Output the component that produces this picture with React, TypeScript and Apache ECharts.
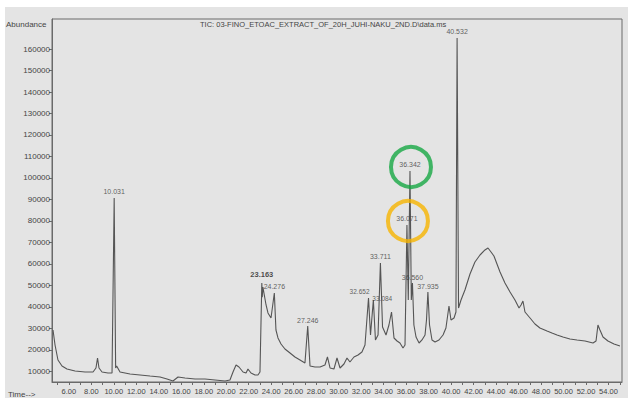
import React, { useEffect, useRef } from "react";
import * as echarts from "echarts";

// Baseline of the total ion chromatogram (retention time in min, abundance)
const baselineTimes = [
  4.59, 4.77, 5.03, 5.39, 5.83, 6.55, 7.44, 8.15, 8.41, 8.55, 8.68, 8.95, 9.48, 9.84,
  10.16, 10.25, 10.55, 11.44, 12.33, 13.22, 14.11, 14.73, 15.26, 15.71, 16.33, 17.22,
  18.11, 19.0, 19.89, 20.33, 20.6, 20.87, 21.13, 21.49, 21.76, 21.93, 22.2, 22.56,
  22.82, 23.0, 23.2, 23.26, 23.54, 23.71, 23.98, 24.42, 24.6, 24.87, 25.22, 25.67, 26.11,
  26.56, 27.0, 27.45, 27.89, 28.34, 28.78, 29.0, 29.23, 29.58, 29.85, 30.12, 30.47,
  30.74, 31.0, 31.36, 31.72, 32.07, 32.34, 32.83, 33.27, 33.5, 33.9, 34.21, 34.47,
  34.7, 34.92, 35.19, 35.45, 35.72, 35.9, 36.19, 36.46, 36.69, 36.88, 37.15, 37.41,
  37.68, 37.81, 38.08, 38.3, 38.57, 38.92, 39.28, 39.54, 39.81, 39.99, 40.26, 40.43,
  40.66, 40.88, 41.23, 41.68, 42.12, 42.57, 43.01, 43.28, 43.55, 43.81, 44.08, 44.35,
  44.79, 45.24, 45.68, 46.04, 46.22, 46.39, 46.57, 47.02, 47.46, 47.9, 48.53, 48.97,
  49.42, 49.95, 50.57, 51.2, 51.91, 52.62, 52.89, 53.06, 53.24, 53.51, 53.95, 54.49,
  55.02,
];
const baselineValues = [
  29210, 22230, 15240, 12450, 11050, 10120, 9660, 9660, 11520, 16170, 11520, 9660, 9190, 9190,
  11520, 12450, 9660, 8720, 8260, 7790, 7330, 6400, 5470, 7330, 6860, 6400,
  6400, 5930, 5470, 5930, 9660, 12920, 11980, 9660, 9190, 11050, 9190, 8260,
  8260, 9660, 44500, 49200, 40850, 37130, 34800, 29210, 25490, 22690, 20360, 18500, 16640,
  15240, 13850, 12450, 11980, 11980, 12920, 16640, 11520, 11050, 16170, 11520, 13380,
  16170, 14310, 16640, 17570, 18970, 22230, 26880, 24560, 26880, 30610, 26880, 31540,
  37590, 25490, 24090, 23160, 20830, 22230, 43180, 43180, 31540, 25950, 23160, 24560,
  26880, 33870, 31540, 24560, 23620, 24560, 26880, 30140, 40390, 33870, 34800, 37590,
  39450, 43180, 47840, 55280, 60870, 64130, 66460, 67390, 65530, 63670, 59940, 56220,
  51090, 46900, 43180, 39450, 40850, 42710, 37590, 34800, 32000, 30140, 28750, 27810,
  26880, 25950, 25020, 24560, 24090, 23160, 24090, 31540, 29210, 25950, 24090, 22690,
  21760,
];

// Integrated peaks: apex retention time and apex abundance
const peakTimes = [
  10.031, 23.163, 24.276, 27.246, 32.652, 33.084, 33.711, 36.071, 36.342, 36.56, 37.935,
  40.532,
];
const peakValues = [
  90670, 51090, 46440, 31070, 44110, 43180, 60410, 78100, 103240, 51090, 46900, 165170,
];

// Hand-drawn rings around two peak labels
const ringTimes = [36.43, 36.16];
const ringValues = [105100, 79960];
const ringColors = ["#16a843", "#f6b400"];

const xTickLabels = [
  6, 8, 10, 12, 14, 16, 18, 20, 22, 24, 26, 28, 30, 32, 34, 36, 38, 40, 42, 44, 46, 48,
  50, 52, 54,
];
const yTickLabels = [
  10000, 20000, 30000, 40000, 50000, 60000, 70000, 80000, 90000, 100000, 110000, 120000,
  130000, 140000, 150000, 160000,
];

const TITLE = "TIC: 03-FINO_ETOAC_EXTRACT_OF_20H_JUHI-NAKU_2ND.D\\data.ms";
const FONT = "'Liberation Sans', Arial, sans-serif";
const INK = "#444444";

// Per-peak label tweaks where neighbouring peaks would collide
const labelTweaks: Record<number, any> = {
  23.163: { fontWeight: "bold", color: "#1e1e1e", fontSize: 7.5, distance: 4 },
  32.652: { align: "right", offset: [1, 0], fontSize: 6.5 },
  33.084: { align: "left", offset: [-1, 5], fontSize: 6.5 },
};

export default function App() {
  const ref = useRef<HTMLDivElement>(null);

  useEffect(() => {
    document.body.style.margin = "0";
    if (!ref.current) return;
    const chart = echarts.init(ref.current, undefined, { renderer: "svg" });

    const trace: [number, number][] = [];
    baselineTimes.forEach((t, i) => trace.push([t, baselineValues[i]]));
    peakTimes.forEach((t, i) => trace.push([t, peakValues[i]]));
    trace.sort((a, b) => a[0] - b[0]);

    const minuteTicks: number[] = [];
    for (let m = 5; m <= 55; m += 1) minuteTicks.push(m);

    chart.setOption({
      animation: false,
      backgroundColor: "#ffffff",
      grid: {
        left: 52,
        right: 6,
        top: 19,
        bottom: 19,
        show: true,
        borderColor: "#6a6a6a",
        borderWidth: 1,
        backgroundColor: "transparent",
      },
      graphic: [
        {
          type: "rect",
          z: -10,
          silent: true,
          shape: { x: 5, y: 7, width: 623, height: 391 },
          style: { fill: "#e4e4e4" },
        },
        {
          type: "text",
          left: 6,
          top: 20,
          style: { text: "Abundance", fill: INK, font: `8px ${FONT}` },
        },
        {
          type: "text",
          left: 200,
          top: 20,
          style: { text: TITLE, fill: INK, font: `7.5px ${FONT}` },
        },
        {
          type: "text",
          left: 8,
          top: 390,
          style: { text: "Time-->", fill: INK, font: `8px ${FONT}` },
        },
      ],
      xAxis: {
        type: "value",
        min: 4.5,
        max: 55.2,
        splitLine: { show: false },
        axisLine: { lineStyle: { color: "#6a6a6a", width: 1 } },
        axisTick: {
          customValues: minuteTicks,
          length: 3,
          lineStyle: { color: "#6a6a6a" },
        },
        axisLabel: {
          customValues: xTickLabels,
          formatter: (v: number) => v.toFixed(2),
          color: INK,
          fontFamily: FONT,
          fontSize: 7.5,
          margin: 5,
        },
      },
      yAxis: {
        type: "value",
        min: 5000,
        max: 174000,
        splitLine: { show: false },
        axisLine: { show: true, lineStyle: { color: "#6a6a6a", width: 1 } },
        axisTick: {
          customValues: yTickLabels,
          length: 3,
          lineStyle: { color: "#6a6a6a" },
        },
        axisLabel: {
          customValues: yTickLabels,
          formatter: (v: number) => String(v),
          color: INK,
          fontFamily: FONT,
          fontSize: 8,
          margin: 2,
        },
      },
      series: [
        {
          type: "line",
          data: trace,
          showSymbol: false,
          symbol: "none",
          lineStyle: { color: "#555555", width: 1.1 },
          z: 2,
        },
        {
          type: "scatter",
          data: peakTimes.map((t, i) => {
            const tweak = labelTweaks[t];
            return tweak
              ? { value: [t, peakValues[i]], label: tweak }
              : { value: [t, peakValues[i]] };
          }),
          symbolSize: 1,
          itemStyle: { color: "rgba(0,0,0,0)" },
          label: {
            show: true,
            position: "top",
            distance: 2,
            formatter: (p: any) => (p.value[0] as number).toFixed(3),
            color: "#3a3a3a",
            fontFamily: FONT,
            fontSize: 7,
          },
          z: 3,
        },
        {
          type: "scatter",
          data: ringTimes.map((t, i) => ({
            value: [t, ringValues[i]],
            itemStyle: {
              color: "rgba(0,0,0,0)",
              borderColor: ringColors[i],
              borderWidth: 4,
            },
          })),
          symbol: "circle",
          symbolSize: 40,
          z: 4,
        },
      ],
    });

    return () => chart.dispose();
  }, []);

  return (
    <div
      ref={ref}
      style={{ position: "fixed", left: 0, top: 0, width: 628, height: 401 }}
    />
  );
}
